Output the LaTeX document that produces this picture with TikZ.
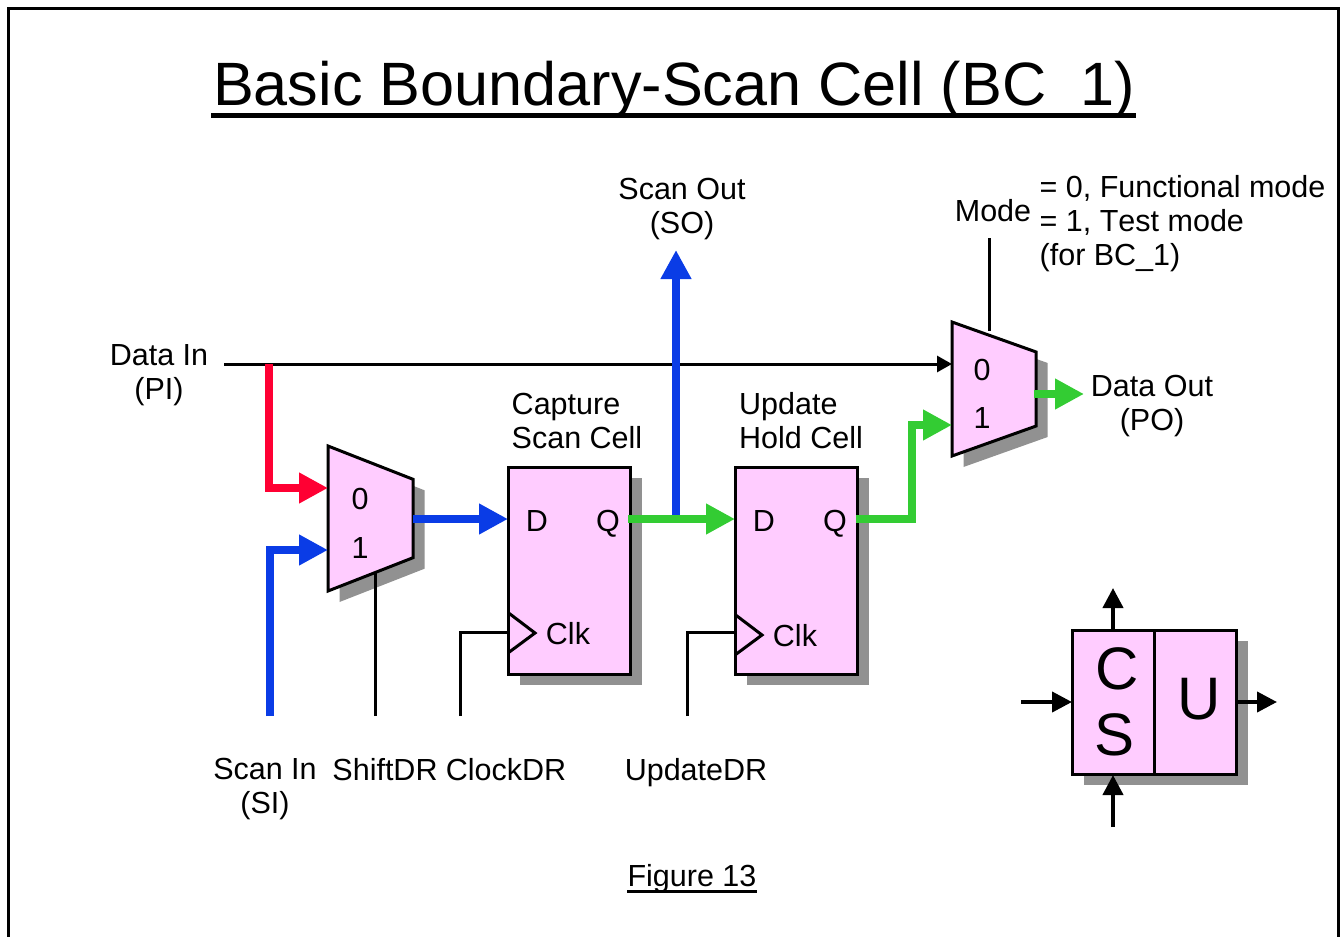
\documentclass[tikz,border=0pt]{standalone}
\usepackage{fontspec}
\setmainfont[Kerning=Off]{Liberation Sans}
\usetikzlibrary{arrows.meta,shapes.geometric,shadows}
\definecolor{cellpink}{RGB}{255,204,255}
\definecolor{cellshadow}{RGB}{145,145,145}
\definecolor{wirered}{RGB}{255,0,51}
\definecolor{wireblue}{RGB}{10,60,230}
\definecolor{wiregreen}{RGB}{51,204,51}
\tikzset{
  txt/.style={inner sep=0pt,outer sep=0pt,font=\fontsize{15.25}{17}\selectfont,align=center},
  txtl/.style={txt,align=left},
  bigtxt/.style={inner sep=0pt,font=\fontsize{30}{34}\selectfont},
  cellshade/.style={copy shadow={shadow xshift=5.75pt,shadow yshift=-5.5pt,fill=cellshadow,draw=none,opacity=1}},
  regbox/.style={draw,line width=1.5pt,fill=cellpink,cellshade,inner sep=0pt,outer sep=0pt,minimum width=61pt,minimum height=103.5pt},
  muxbox/.style={trapezium,trapezium stretches=true,shape border rotate=270,draw,line width=1.5pt,fill=cellpink,cellshade,inner sep=1pt,outer sep=0pt},
  clkmark/.style={line width=1.5pt,line join=miter},
  wire/.style={line width=1.5pt},
  fatwire/.style={line width=4pt,-{Triangle[length=14.5pt,width=14.5pt]}},
  thinarrow/.style={line width=1.5pt,-{Triangle[length=7.5pt,width=8pt]}},
  keyarrow/.style={line width=2pt,-{Triangle[length=10pt,width=10pt]}}
}
\begin{document}
\begin{tikzpicture}[x=0.5pt,y=-0.5pt]
\useasboundingbox (0,0) rectangle (1341,937);
\draw[line width=1.5pt] (8,937)--(8,8)--(1338,8)--(1338,937);

\node[txt,font=\fontsize{30.6}{34}\selectfont] (title) at (674,90) {Basic Boundary-Scan Cell (BC\_1)};
\draw[line width=2.2pt] (211,115.5)--(1136,115.5);

\node[muxbox,trapezium angle=67,minimum width=72.5pt,minimum height=42.5pt] (muxa) at (370.5,518.5) {};
\node[muxbox,trapezium angle=68,minimum width=67pt,minimum height=42pt] (muxb) at (994,389) {};
\node[regbox] (regc) at (569.5,570.5) {};
\node[regbox] (regu) at (796.5,570.5) {};

\draw[clkmark] (508,612.5)--(535,633)--(508,653);
\draw[clkmark] (735,614.5)--(762,635)--(735,655);

\coordinate (muxain0) at (328,488);
\coordinate (muxain1) at (328,550);
\coordinate (muxbin0) at (952,364);
\coordinate (muxbin1) at (952,425);
\coordinate (regcd) at (508,519);
\coordinate (regud) at (735,519);
\coordinate (regcq) at (628,519);
\coordinate (reguq) at (856,519);
\coordinate (muxaout) at (413,519);
\coordinate (muxbout) at (1034,394);
\coordinate (dataout) at (1084,394);
\coordinate (datain) at (224,364);
\coordinate (redtap) at (269,364);
\coordinate (scanin) at (270,716);
\coordinate (shiftin) at (375,716);
\coordinate (shiftend) at (375,572);
\coordinate (clockin) at (460,716);
\coordinate (clockend) at (508,632);
\coordinate (updatein) at (687,716);
\coordinate (updateend) at (735,632);
\coordinate (scanout) at (676,250);
\coordinate (scantap) at (676,516);
\coordinate (modetop) at (989,238);
\coordinate (modeend) at (989,331);

\draw[thinarrow] (datain)--(muxbin0);
\draw[fatwire,wirered] (redtap)|-(muxain0);
\draw[fatwire,wireblue] (scanin)|-(muxain1);
\draw[fatwire,wireblue] (muxaout)--(regcd);
\draw[fatwire,wireblue] (scantap)--(scanout);
\draw[fatwire,wiregreen] (regcq)--(regud);
\draw[fatwire,wiregreen] (reguq)-|(912,425)--(muxbin1);
\draw[fatwire,wiregreen] (muxbout)--(dataout);
\draw[wire] (shiftin)--(shiftend);
\draw[wire] (clockin)|-(clockend);
\draw[wire] (updatein)|-(updateend);
\draw[wire] (modetop)--(modeend);

\node[txt] (muxa0) at (360,499) {0};
\node[txt] (muxa1) at (360,548) {1};
\node[txt] (muxb0) at (982,370) {0};
\node[txt] (muxb1) at (982,418) {1};
\node[txt] (regcdl) at (537,521) {D};
\node[txt] (regcql) at (608,524) {Q};
\node[txt] (regcclk) at (568,634) {Clk};
\node[txt] (regudl) at (764,521) {D};
\node[txt] (reguql) at (835,524) {Q};
\node[txt] (reguclk) at (795,636) {Clk};

\node[txtl] (capt) at (577,420.5) {Capture\\Scan Cell};
\node[txtl] (updt) at (801,420.5) {Update\\Hold Cell};
\node[txt] (datainl) at (159,375.5) {Data In\\(PI)};
\node[txt] (dataoutl) at (1152,406.5) {Data Out\\(PO)};
\node[txt] (scanoutl) at (682,209.5) {Scan Out\\(SO)};
\node[txt] (model) at (993,210.5) {Mode};
\node[txtl] (model2) at (1182.5,223.5) {= 0, Functional mode\\= 1, Test mode\\(for BC\_1)};
\node[txt] (scaninl) at (265,789.5) {Scan In\\(SI)};
\node[txt] (shiftl) at (385,769.5) {ShiftDR};
\node[txt] (clockl) at (506,769.5) {ClockDR};
\node[txt] (updatel) at (696,772.5) {UpdateDR};
\node[txt] (figl) at (692,879) {Figure 13};
\draw[line width=1.5pt] (627,891.5)--(757,891.5);

\node[draw,line width=1.5pt,fill=cellpink,cellshade,inner sep=0pt,outer sep=0pt,minimum width=82pt,minimum height=72pt] (csbox) at (1154.5,702) {};
\draw[wire] (csbox.north west)++(82,0) coordinate (csdiv)--(csdiv|-csbox.south);
\node[bigtxt] (csc) at (1117,669) {C};
\node[bigtxt] (css) at (1115,735) {S};
\node[bigtxt] (csu) at (1199,699) {U};
\coordinate (keyin) at (1021,702);
\coordinate (keyinend) at (1072,702);
\coordinate (keyoutstart) at (1237,702);
\coordinate (keyout) at (1277,702);
\coordinate (keyso) at (1113,630);
\coordinate (keysoend) at (1113,588);
\coordinate (keyup) at (1113,827);
\coordinate (keyupend) at (1113,775);
\draw[keyarrow] (keyin)--(keyinend);
\draw[keyarrow] (keyoutstart)--(keyout);
\draw[keyarrow] (keyso)--(keysoend);
\draw[keyarrow] (keyup)--(keyupend);
\end{tikzpicture}
\end{document}
